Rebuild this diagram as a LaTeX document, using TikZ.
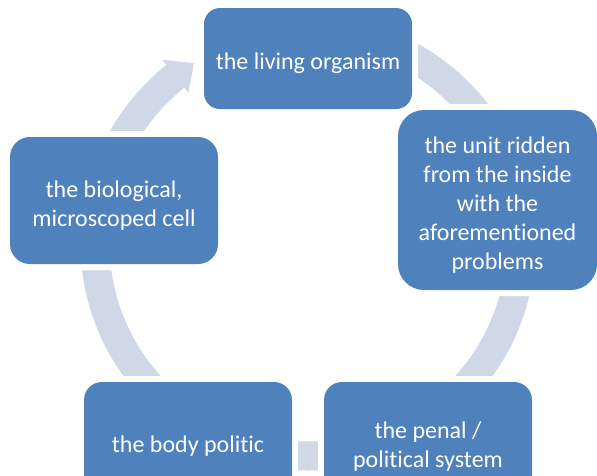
\documentclass[tikz,border=0pt]{standalone}
\usepackage{fontspec}
\setmainfont[Ligatures={NoCommon}]{Carlito}
\usetikzlibrary{calc}
\definecolor{boxblue}{HTML}{4F81BD}
\definecolor{ringblue}{HTML}{D0D8E8}
\newcommand\boxlift{\rule{0pt}{27pt}}
\tikzset{
  cyclebox/.style={rectangle, fill=boxblue, text=white, align=center, inner sep=0pt,
    font=\fontsize{24}{29}\selectfont,
    preaction={draw=white, line width=12pt}},
  ring/.style={draw=ringblue, line width=29pt},
  ringhead/.style={fill=ringblue}
}
\begin{document}
\begin{tikzpicture}[x=1pt,y=-1pt]
\useasboundingbox (0,0) rectangle (597,475);
\coordinate (c) at (308,243);
% ring arrow
\draw[ring] ($(c)+(270:213)$) arc[start angle=270, end angle=592, radius=213];
\fill[ringhead] ($(c)+(231.5:234)$) -- ($(c)+(237.6:213)$) -- ($(c)+(231.5:192)$) -- cycle;
% boxes
\node[cyclebox, rounded corners=16pt, minimum width=208pt, minimum height=101pt] (top) at (308,58.5) {\boxlift the living organism};
\node[cyclebox, rounded corners=26pt, minimum width=199pt, minimum height=180pt] (right) at (497.5,200) {\boxlift the unit ridden\\from the inside\\with the\\aforementioned\\problems};
\node[cyclebox, rounded corners=18pt, minimum width=208pt, minimum height=118pt] (bright) at (428,441) {\boxlift the penal /\\political system};
\node[cyclebox, rounded corners=18pt, minimum width=208pt, minimum height=118pt] (bleft) at (188,441) {\boxlift the body politic};
\node[cyclebox, rounded corners=20pt, minimum width=208pt, minimum height=127pt] (left) at (114,200.5) {\boxlift the biological,\\microscoped cell};
\end{tikzpicture}
\end{document}
